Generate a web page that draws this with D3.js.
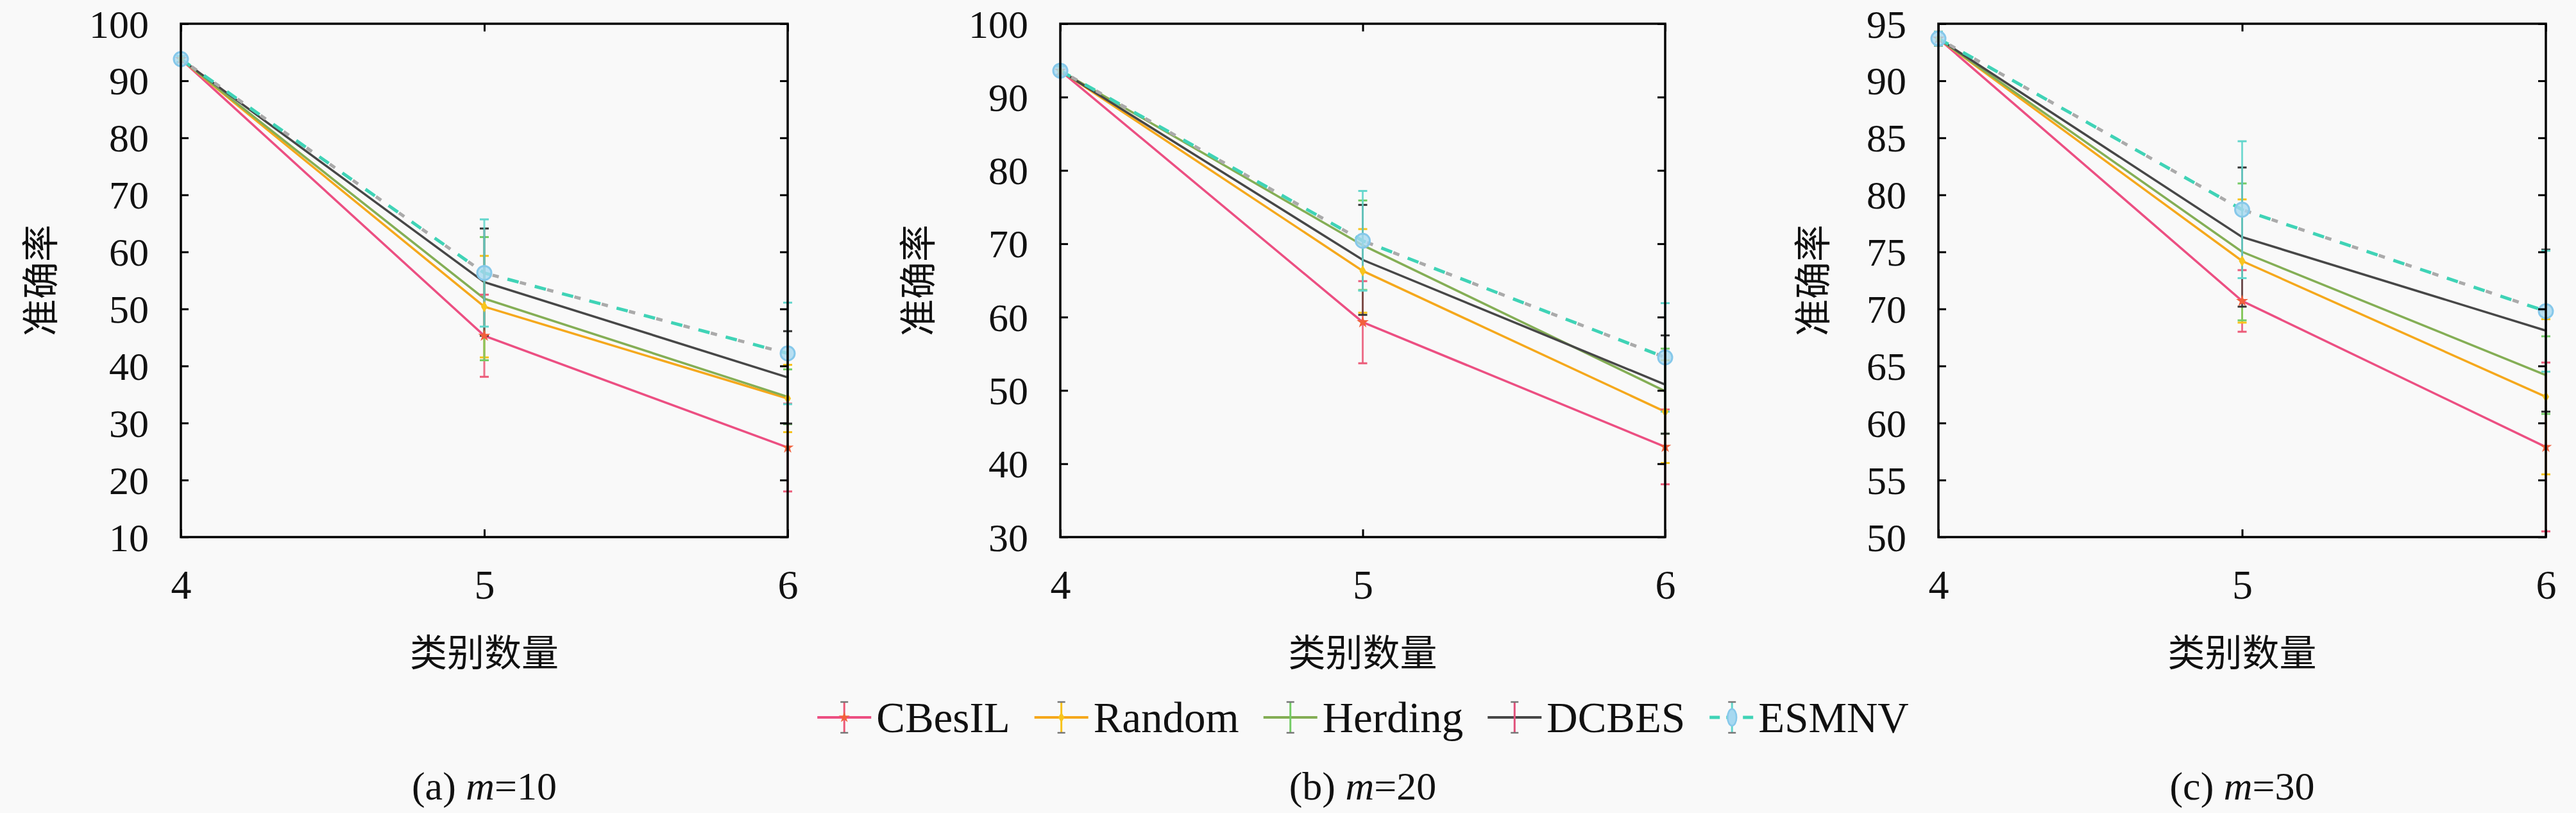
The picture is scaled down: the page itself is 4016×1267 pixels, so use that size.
<!DOCTYPE html>
<html>
<head>
<meta charset="utf-8">
<script src="https://cdn.jsdelivr.net/npm/d3@7/dist/d3.min.js"></script>
<style>
  html, body { margin: 0; padding: 0; background: #f9f9f9; }
  svg { display: block; }
</style>
</head>
<body>
<svg id="chart" width="4016" height="1267"></svg>
<script>
// ---------------- data ----------------
const xValues = [4, 5, 6];
const xTickLabels = ["4", "5", "6"];
const seriesNames = ["CBesIL", "Random", "Herding", "DCBES", "ESMNV"];

// panel (a) m=10 : one row per series (order of seriesNames), one value per x
const meansA = [
  [93.8, 45.3, 25.7],
  [93.8, 50.4, 34.3],
  [93.8, 51.8, 34.6],
  [93.8, 54.7, 38.0],
  [93.8, 56.3, 42.2]
];
const errA = [
  [0.5, 7.2, 7.7],
  [0.5, 8.9, 5.9],
  [0.5, 10.8, 4.8],
  [0.5, 9.4, 8.1],
  [0.5, 9.4, 8.9]
];
// panel (b) m=20
const meansB = [
  [93.6, 59.3, 42.3],
  [93.6, 66.3, 47.1],
  [93.6, 69.8, 49.9],
  [93.6, 67.8, 50.8],
  [93.6, 70.4, 54.5]
];
const errB = [
  [0.6, 5.6, 5.1],
  [0.6, 5.7, 7.0],
  [0.6, 6.1, 5.8],
  [0.6, 7.5, 6.7],
  [0.6, 6.8, 7.4]
];
// panel (c) m=30
const meansC = [
  [93.7, 70.7, 57.9],
  [93.7, 74.2, 62.3],
  [93.7, 75.0, 64.2],
  [93.7, 76.3, 68.1],
  [93.7, 78.7, 69.8]
];
const errC = [
  [0.6, 2.7, 7.4],
  [0.6, 5.4, 6.8],
  [0.6, 6.0, 3.4],
  [0.6, 6.1, 7.1],
  [0.6, 6.0, 5.3]
];
const yTicksA = [10, 20, 30, 40, 50, 60, 70, 80, 90, 100];
const yTicksB = [30, 40, 50, 60, 70, 80, 90, 100];
const yTicksC = [50, 55, 60, 65, 70, 75, 80, 85, 90, 95];
const captionLetters = ["a", "b", "c"];
const captionM = ["10", "20", "30"];
const xAxisTitle = "类别数量";
const yAxisTitle = "准确率";

// ---------------- styles ----------------
const lineColors = ["#ec4f82", "#f5a81c", "#84ae55", "#474747", "#3fd3b6"];
const errColors  = ["#ec5a78", "#f7c21a", "#74cc66", "#6a3a4e", "#62d6cc"];
const markColors = ["#f2603c", "#f7c51e", "#72c860", "#555555", "#86c8ea"];

const SERIF = "'Liberation Serif', 'DejaVu Serif', serif";
const CJK = "'Noto Sans CJK SC', sans-serif";

const svg = d3.select("#chart");
svg.append("rect").attr("width", 4016).attr("height", 1267).attr("fill", "#f9f9f9");

const panels = [
  { x0: 282, x1: 1228, domain: [10, 100], ticks: yTicksA, means: meansA, errs: errA, ylabX: 62 },
  { x0: 1653, x1: 2596, domain: [30, 100], ticks: yTicksB, means: meansB, errs: errB, ylabX: 1430 },
  { x0: 3022, x1: 3969, domain: [50, 95], ticks: yTicksC, means: meansC, errs: errC, ylabX: 2825 }
];
const yTop = 37, yBot = 837;

panels.forEach((p, pi) => {
  const x = d3.scaleLinear().domain([4, 6]).range([p.x0, p.x1]);
  const y = d3.scaleLinear().domain(p.domain).range([yBot, yTop]);
  const g = svg.append("g");

  const clipId = "clip" + pi;
  svg.append("clipPath").attr("id", clipId).append("rect")
    .attr("x", p.x0 - 30).attr("y", yTop - 30).attr("width", p.x1 - p.x0 + 60).attr("height", yBot - yTop + 60);

  const plot = g.append("g").attr("clip-path", `url(#${clipId})`);

  const line = d3.line().x((d, i) => x(xValues[i])).y(d => y(d));

  // lines
  seriesNames.forEach((s, si) => {
    const vals = p.means[si];
    if (s === "ESMNV") {
      plot.append("path").attr("d", line(vals)).attr("fill", "none")
        .attr("stroke", "#aaaaaa").attr("stroke-width", 5)
        .attr("stroke-dasharray", "10 34").attr("stroke-dashoffset", -20);
      plot.append("path").attr("d", line(vals)).attr("fill", "none")
        .attr("stroke", lineColors[si]).attr("stroke-width", 5)
        .attr("stroke-dasharray", "18 26");
    } else {
      plot.append("path").attr("d", line(vals)).attr("fill", "none")
        .attr("stroke", lineColors[si]).attr("stroke-width", 3.5);
    }
  });

  // error bars
  seriesNames.forEach((s, si) => {
    const vals = p.means[si], errs = p.errs[si];
    vals.forEach((v, i) => {
      const cx = x(xValues[i]);
      const lo = y(v - errs[i]), hi = y(v + errs[i]);
      const eg = plot.append("g");
      eg.append("line").attr("x1", cx).attr("x2", cx).attr("y1", lo).attr("y2", hi)
        .attr("stroke", errColors[si]).attr("stroke-width", 3).attr("opacity", 0.85);
      [lo, hi].forEach(yy => {
        eg.append("line").attr("x1", cx - 7).attr("x2", cx + 7).attr("y1", yy).attr("y2", yy)
          .attr("stroke", si === 3 ? "#333" : errColors[si]).attr("stroke-width", 3);
      });
    });
  });

  // markers
  seriesNames.forEach((s, si) => {
    const vals = p.means[si];
    vals.forEach((v, i) => {
      const cx = x(xValues[i]), cy = y(v);
      if (si === 0) {
        plot.append("path").attr("d", d3.symbol(d3.symbolStar, 110)())
          .attr("transform", `translate(${cx},${cy})`).attr("fill", markColors[si]);
      } else if (si === 1) {
        plot.append("path").attr("d", d3.symbol(d3.symbolDiamond, 90)())
          .attr("transform", `translate(${cx},${cy})`).attr("fill", markColors[si]);
      } else if (si === 4) {
        plot.append("circle").attr("cx", cx).attr("cy", cy).attr("r", 11)
          .attr("fill", "#a6d8f0").attr("fill-opacity", 0.8)
          .attr("stroke", markColors[si]).attr("stroke-width", 3);
      }
    });
  });

  // frame
  g.append("rect").attr("x", p.x0).attr("y", yTop).attr("width", p.x1 - p.x0).attr("height", yBot - yTop)
    .attr("fill", "none").attr("stroke", "#000").attr("stroke-width", 3.5);

  // y axis ticks (inward, both sides)
  const yAxisL = d3.axisLeft(y).tickValues(p.ticks).tickSize(-12).tickPadding(62).tickFormat(d3.format("d"));
  const gyl = g.append("g").attr("transform", `translate(${p.x0},0)`).call(yAxisL);
  const yAxisR = d3.axisRight(y).tickValues(p.ticks).tickSize(-12).tickFormat("");
  const gyr = g.append("g").attr("transform", `translate(${p.x1},0)`).call(yAxisR);
  [gyl, gyr].forEach(a => {
    a.select(".domain").remove();
    a.selectAll(".tick line").attr("stroke", "#000").attr("stroke-width", 3);
  });
  gyl.selectAll(".tick text").attr("font-family", SERIF).attr("font-size", 62).attr("fill", "#111")
    .attr("text-anchor", "end").attr("dy", "0.34em");
  gyl.selectAll(".tick text").attr("x", -50);

  // x axis ticks (inward bottom & top)
  const xAxisB = d3.axisBottom(x).tickValues(xValues).tickSize(-12).tickFormat((d, i) => xTickLabels[i]);
  const gxb = g.append("g").attr("transform", `translate(0,${yBot})`).call(xAxisB);
  const xAxisT = d3.axisTop(x).tickValues(xValues).tickSize(-12).tickFormat("");
  const gxt = g.append("g").attr("transform", `translate(0,${yTop})`).call(xAxisT);
  [gxb, gxt].forEach(a => {
    a.select(".domain").remove();
    a.selectAll(".tick line").attr("stroke", "#000").attr("stroke-width", 3);
  });
  gxb.selectAll(".tick text").attr("font-family", SERIF).attr("font-size", 64).attr("fill", "#111")
    .attr("y", 0).attr("dy", 0).attr("transform", "translate(0,96)");

  // axis titles
  const cx = (p.x0 + p.x1) / 2;
  g.append("text").attr("x", cx).attr("y", 1038).attr("text-anchor", "middle")
    .attr("font-family", CJK).attr("font-size", 58).attr("fill", "#111").text(xAxisTitle);
  g.append("text").attr("transform", `translate(${p.ylabX + 22},${(yTop + yBot) / 2}) rotate(-90)`)
    .attr("text-anchor", "middle").attr("font-family", CJK).attr("font-size", 58).attr("fill", "#111")
    .text(yAxisTitle);

  // caption
  const cap = g.append("text").attr("x", cx).attr("y", 1246).attr("text-anchor", "middle")
    .attr("font-family", SERIF).attr("font-size", 62).attr("fill", "#111");
  cap.append("tspan").text(`(${captionLetters[pi]}) `);
  cap.append("tspan").attr("font-style", "italic").text("m");
  cap.append("tspan").text("=" + captionM[pi]);
});

// ---------------- legend ----------------
const legend = svg.append("g");
let lx = 0;
seriesNames.forEach((s, si) => {
  const it = legend.append("g").attr("transform", `translate(${lx},0)`);
  if (si === 4) {
    it.append("line").attr("x1", 0).attr("x2", 70).attr("y1", 0).attr("y2", 0)
      .attr("stroke", lineColors[si]).attr("stroke-width", 5).attr("stroke-dasharray", "16 10");
  } else {
    it.append("line").attr("x1", 0).attr("x2", 84).attr("y1", 0).attr("y2", 0)
      .attr("stroke", lineColors[si]).attr("stroke-width", 4);
  }
  const mx = si === 4 ? 35 : 42;
  const ec = si === 3 ? "#e0507a" : errColors[si];
  it.append("line").attr("x1", mx).attr("x2", mx).attr("y1", -24).attr("y2", 24)
    .attr("stroke", ec).attr("stroke-width", 3);
  [-24, 24].forEach(yy => it.append("line").attr("x1", mx - 6).attr("x2", mx + 6).attr("y1", yy).attr("y2", yy)
    .attr("stroke", "#777").attr("stroke-width", 2.5));
  if (si === 0) it.append("path").attr("d", d3.symbol(d3.symbolStar, 90)()).attr("transform", `translate(${mx},0)`).attr("fill", markColors[0]);
  if (si === 1) it.append("path").attr("d", d3.symbol(d3.symbolDiamond, 80)()).attr("transform", `translate(${mx},0)`).attr("fill", markColors[1]);
  if (si === 4) it.append("ellipse").attr("cx", mx).attr("cy", 0).attr("rx", 7).attr("ry", 13)
    .attr("fill", "#a6d8f0").attr("stroke", markColors[4]).attr("stroke-width", 2.5);
  const tx = (si === 4 ? 76 : 92);
  const t = it.append("text").attr("x", tx).attr("y", 23).attr("font-family", SERIF)
    .attr("font-size", 67).attr("fill", "#111").text(s);
  const w = t.node().getComputedTextLength();
  lx += tx + w + 38;
});
const legendWidth = lx - 38;
legend.attr("transform", `translate(${2125 - legendWidth / 2},1118)`);
</script>
</body>
</html>
